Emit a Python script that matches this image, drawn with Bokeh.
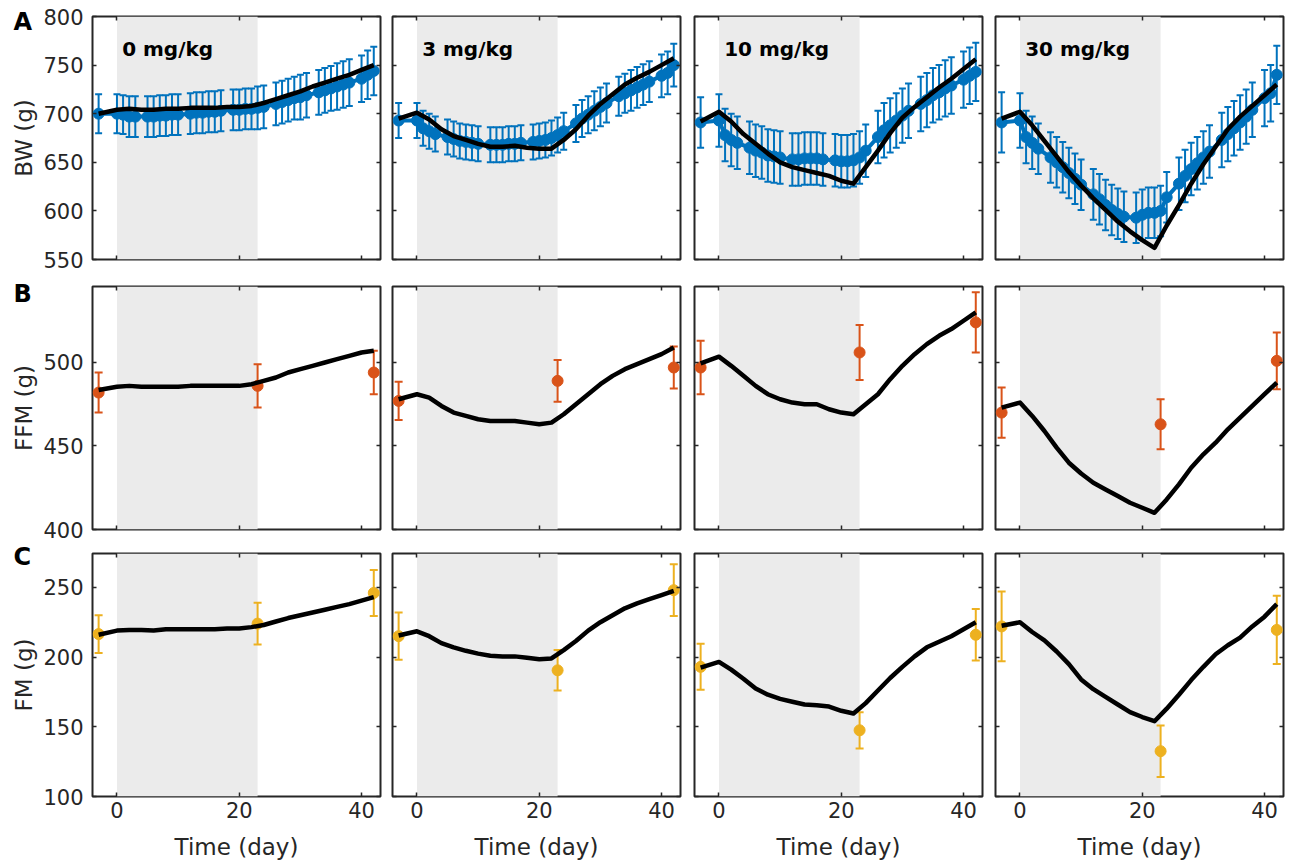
import math
from bokeh.plotting import figure
from bokeh.models import (ColumnDataSource, Whisker, TeeHead, BoxAnnotation, Label,
                          LinearAxis, Range1d, FixedTicker)
from bokeh.layouts import column, row
from bokeh.embed import file_html
from bokeh.resources import INLINE

# ---------------- data ----------------
DOSES = ["0 mg/kg", "3 mg/kg", "10 mg/kg", "30 mg/kg"]
ROW_LETTERS = ["A", "B", "C"]
Y_LABELS = ["BW (g)", "FFM (g)", "FM (g)"]
X_LABEL = "Time (day)"
TREAT_START = 0
TREAT_END = 23

X_TICKS = [0, 20, 40]
Y_TICKS_BW = [550, 600, 650, 700, 750, 800]
Y_TICKS_FFM = [400, 450, 500]
Y_TICKS_FM = [100, 150, 200, 250]

# body weight measurements (mean, SD)
BW_DAYS = [-3, 0, 1, 2, 3, 5, 6, 7, 8, 9, 10, 12, 13, 14, 15, 16, 17, 19, 20, 21, 22,
           23, 24, 26, 27, 28, 29, 30, 31, 33, 34, 35, 36, 37, 38, 40, 41, 42]
BW_0 = [700, 700, 699, 697, 697, 697, 697, 698, 698, 699, 699, 700, 701, 701, 702, 702, 703,
        704, 704, 705, 705, 706, 707, 710, 712, 714, 716, 717, 719, 722, 724, 726, 728, 730,
        732, 736, 740, 744]
BW_0_SD = [20, 20, 20, 21, 21, 21, 21, 21, 21, 21, 21, 21, 21, 21, 21, 21, 21, 21, 21, 21, 21,
           22, 22, 22, 22, 22, 22, 23, 23, 23, 23, 23, 24, 24, 24, 24, 25, 25]
BW_3 = [693, 693, 685, 682, 679, 676, 674, 672, 671, 670, 669, 668, 668, 668, 669, 669, 670,
        671, 672, 673, 675, 678, 682, 690, 695, 699, 703, 707, 711, 718, 721, 724, 727, 730,
        733, 739, 742, 750]
BW_3_SD = [18, 18, 18, 18, 18, 18, 18, 18, 18, 18, 18, 18, 18, 18, 18, 18, 18, 18, 18, 18, 18,
           18, 19, 19, 19, 19, 20, 20, 20, 20, 20, 21, 21, 21, 21, 22, 22, 22]
BW_10 = [691, 693, 678, 673, 670, 665, 662, 660, 657, 656, 655, 653, 653, 654, 654, 654, 653,
         652, 651, 651, 652, 655, 662, 676, 683, 688, 693, 698, 703, 710, 714, 719, 722, 726,
         729, 735, 739, 743]
BW_10_SD = [26, 27, 27, 27, 27, 27, 27, 27, 27, 27, 27, 27, 27, 27, 27, 27, 27, 27, 27, 27, 27,
            27, 27, 27, 28, 28, 28, 28, 28, 28, 28, 28, 28, 29, 29, 29, 29, 30]
BW_30 = [691, 693, 676, 670, 664, 655, 650, 645, 639, 633, 627, 617, 612, 606, 601, 597, 594,
         593, 596, 598, 598, 600, 614, 628, 636, 643, 649, 655, 661, 673, 679, 685, 691, 697,
         704, 716, 721, 740]
BW_30_SD = [31, 28, 27, 27, 26, 26, 26, 26, 26, 26, 26, 26, 26, 26, 26, 26, 26, 26, 26, 26, 26,
            26, 26, 27, 27, 27, 27, 27, 27, 28, 28, 28, 28, 28, 28, 29, 29, 30]

# model simulations
MODEL_DAYS = [-3, 0, 2, 4, 6, 8, 10, 12, 14, 16, 18, 20, 22, 24, 26, 28, 30, 32, 34, 36, 38, 40, 42]
MODEL_BW_0 = [700, 704, 705, 704, 704, 705, 705, 706, 706, 706, 707, 707, 708, 711, 715, 719,
              723, 728, 732, 736, 740, 745, 750]
MODEL_BW_3 = [695, 701, 694, 684, 677, 673, 669, 666, 666, 667, 665, 664, 664, 673, 684, 698,
              710, 720, 730, 737, 743, 750, 757]
MODEL_BW_10 = [692, 702, 692, 679, 669, 659, 650, 645, 642, 639, 636, 631, 628, 645, 662, 680,
               696, 707, 717, 727, 736, 746, 756]
MODEL_BW_30 = [695, 702, 688, 672, 656, 640, 626, 613, 601, 589, 579, 570, 562, 585, 606, 628,
               648, 666, 684, 697, 708, 719, 730]
MODEL_FFM_0 = [483.5, 485.5, 486, 485.5, 485.5, 485.5, 485.5, 486, 486, 486, 486, 486, 487, 489,
               491, 494, 496, 498, 500, 502, 504, 506, 507]
MODEL_FFM_3 = [478, 481, 479, 474, 470, 468, 466, 465, 465, 465, 464, 463, 464, 469, 475, 481,
               487, 492, 496, 499, 502, 505, 509]
MODEL_FFM_10 = [499.5, 503.5, 498, 492, 486, 481, 478, 476, 475, 475, 472, 470, 469, 475, 481,
                490, 498, 505, 511, 516, 520, 525, 530]
MODEL_FFM_30 = [473, 476, 468, 459, 449, 440, 433.5, 428, 424, 420, 416, 413, 410, 418, 427, 437,
                445, 452, 460, 467, 474, 481, 488]
MODEL_FM_0 = [216, 219, 219.5, 219.5, 219, 220, 220, 220, 220, 220, 220.5, 220.5, 221.5, 223,
              225.5, 228, 230, 232, 234, 236, 238, 240.5, 243]
MODEL_FM_3 = [215.5, 218.5, 215, 210, 207, 204.5, 202.5, 201, 200.5, 200.5, 199.5, 198.5, 199,
              205, 211.5, 219, 225, 230, 235, 238.5, 241.5, 244.5, 247.5]
MODEL_FM_10 = [192.5, 196.5, 191, 184.5, 177.5, 173, 170, 168, 166, 165.5, 164.5, 161.5, 159.5,
               167, 176, 185, 193, 200.5, 207, 211, 215, 220, 225]
MODEL_FM_30 = [222.5, 225, 218, 212, 204, 195, 184, 177, 171.5, 166, 160.5, 157, 154, 163, 173,
               183.5, 193, 202, 208.5, 214, 222, 229, 238]

# body composition measurements (mean, SD)
COMP_DAYS = [-3, 23, 42]
FFM_0 = [482, 486, 494]
FFM_0_SD = [12, 13, 13]
FFM_3 = [477, 489, 497]
FFM_3_SD = [11.5, 12.5, 12.5]
FFM_10 = [497, 506, 524]
FFM_10_SD = [16, 16.5, 18]
FFM_30 = [470, 463, 501]
FFM_30_SD = [15, 15, 17]
FM_0 = [216.5, 224, 246]
FM_0_SD = [13.5, 15, 16.5]
FM_3 = [215, 190.5, 248]
FM_3_SD = [17, 14.5, 18.5]
FM_10 = [193, 147.5, 216]
FM_10_SD = [16.5, 13, 18.5]
FM_30 = [222, 132.5, 219.5]
FM_30_SD = [25, 18.5, 24.5]

# ---------------- assembly ----------------
OBS = [
    [(BW_0, BW_0_SD), (BW_3, BW_3_SD), (BW_10, BW_10_SD), (BW_30, BW_30_SD)],
    [(FFM_0, FFM_0_SD), (FFM_3, FFM_3_SD), (FFM_10, FFM_10_SD), (FFM_30, FFM_30_SD)],
    [(FM_0, FM_0_SD), (FM_3, FM_3_SD), (FM_10, FM_10_SD), (FM_30, FM_30_SD)],
]
OBS_DAYS = [BW_DAYS, COMP_DAYS, COMP_DAYS]
MODELS = [
    [MODEL_BW_0, MODEL_BW_3, MODEL_BW_10, MODEL_BW_30],
    [MODEL_FFM_0, MODEL_FFM_3, MODEL_FFM_10, MODEL_FFM_30],
    [MODEL_FM_0, MODEL_FM_3, MODEL_FM_10, MODEL_FM_30],
]
Y_TICKS = [Y_TICKS_BW, Y_TICKS_FFM, Y_TICKS_FM]
Y_RANGES = [(550, 800), (400, 545.5), (100, 274.3)]
X_RANGE = (-4, 43.1)
TITLE_POS = (0.85, 767)

BLUE = "#0072BD"
ORANGE = "#D95319"
YELLOW = "#EDB120"
ROW_COLORS = [BLUE, ORANGE, YELLOW]
SHADE = "#EBEBEB"
AXIS = "#262626"
FONT = "DejaVu Sans"

SIDE_W = 40                      # narrow strip holding row letters and y-axis titles
COL_LEFT = [52, 10, 12, 11]
COL_RIGHT = [2, 2, 2, 3]
FRAME_W = 288
ROW_TOP = [16, 13, 12]
ROW_BOTTOM = [14, 12, 68]
FRAME_H = 243
LETTER_FROM_ROW_TOP = [21, 20, 15]
ROW_H = [t + FRAME_H + b for t, b in zip(ROW_TOP, ROW_BOTTOM)]
TOTAL_H = sum(ROW_H)


def style_axis(ax, ticks, show_labels):
    ax.ticker = FixedTicker(ticks=ticks)
    ax.axis_line_color = None
    ax.major_tick_in = 4
    ax.major_tick_out = 0
    ax.minor_tick_line_color = None
    ax.major_tick_line_color = AXIS
    ax.major_tick_line_width = 1.5
    if show_labels:
        ax.major_label_text_font = FONT
        ax.major_label_text_font_size = "21px"
        ax.major_label_text_color = AXIS
    else:
        ax.major_label_text_font_size = "0px"
        ax.major_label_text_color = None
        ax.major_label_text_alpha = 0
        ax.major_label_standoff = 0


# side strip spanning all rows: panel letters and y-axis titles (pixel coordinates)
side = figure(width=SIDE_W, height=TOTAL_H, title=None,
              x_range=Range1d(0, SIDE_W), y_range=Range1d(TOTAL_H, 0),
              output_backend="svg", toolbar_location=None,
              x_axis_location=None, y_axis_location=None,
              min_border=0, min_border_left=0, min_border_right=0, min_border_top=0,
              min_border_bottom=0)
side.outline_line_color = None
side.background_fill_color = "white"
side.border_fill_color = "white"
for g in side.grid:
    g.visible = False

rows = []
row_start = 0
for r in range(3):
    fig_h = ROW_H[r]
    side.add_layout(Label(x=13, y=row_start + LETTER_FROM_ROW_TOP[r], text=ROW_LETTERS[r],
                          text_font=FONT, text_font_size="24px", text_font_style="bold",
                          text_color="black", text_baseline="middle", text_align="left"))
    side.add_layout(Label(x=23, y=row_start + ROW_TOP[r] + FRAME_H / 2, text=Y_LABELS[r],
                          angle=math.pi / 2, text_font=FONT, text_font_size="23px",
                          text_color=AXIS, text_baseline="middle", text_align="center"))
    row_start += fig_h

    figs = []
    for c in range(4):
        p = figure(width=COL_LEFT[c] + FRAME_W + COL_RIGHT[c], height=fig_h,
                   x_range=Range1d(*X_RANGE), y_range=Range1d(*Y_RANGES[r]),
                   output_backend="svg", toolbar_location=None,
                   min_border_left=COL_LEFT[c], min_border_right=COL_RIGHT[c],
                   min_border_top=ROW_TOP[r], min_border_bottom=ROW_BOTTOM[r])
        p.grid.visible = False
        p.outline_line_color = AXIS
        p.outline_line_width = 2
        p.background_fill_color = "white"
        p.border_fill_color = "white"

        p.add_layout(BoxAnnotation(left=TREAT_START, right=TREAT_END, fill_color=SHADE,
                                   fill_alpha=1.0, line_color=None, level="underlay"))

        color = ROW_COLORS[r]
        days = OBS_DAYS[r]
        mean, sd = OBS[r][c]
        src = ColumnDataSource(dict(x=days, y=mean,
                                    lower=[m - s for m, s in zip(mean, sd)],
                                    upper=[m + s for m, s in zip(mean, sd)]))
        cap = 7 if r == 0 else 8
        p.add_layout(Whisker(base="x", lower="lower", upper="upper", source=src,
                             line_color=color, line_width=2, level="underlay",
                             upper_head=TeeHead(size=cap, line_color=color, line_width=2),
                             lower_head=TeeHead(size=cap, line_color=color, line_width=2)))
        if r == 0:
            p.line("x", "y", source=src, line_color=color, line_width=4)
            p.scatter("x", "y", source=src, size=11, fill_color=color, line_color=color)
        else:
            p.scatter("x", "y", source=src, size=11, fill_color=color, line_color=color)

        p.line(MODEL_DAYS, MODELS[r][c], line_color="black", line_width=4.5,
               line_join="round")

        # axes
        style_axis(p.xaxis[0], X_TICKS, r == 2)
        style_axis(p.yaxis[0], Y_TICKS[r], c == 0)
        if r == 2:
            p.xaxis[0].axis_label = X_LABEL
            p.xaxis[0].axis_label_text_font = FONT
            p.xaxis[0].axis_label_text_font_size = "23px"
            p.xaxis[0].axis_label_text_font_style = "normal"
            p.xaxis[0].axis_label_text_color = AXIS
            p.xaxis[0].axis_label_standoff = 13
            p.xaxis[0].major_label_standoff = 5
        if c == 0:
            p.yaxis[0].major_label_standoff = 9
        top = LinearAxis()
        style_axis(top, X_TICKS, False)
        p.add_layout(top, "above")
        right = LinearAxis()
        style_axis(right, Y_TICKS[r], False)
        p.add_layout(right, "right")

        if r == 0:
            p.add_layout(Label(x=TITLE_POS[0], y=TITLE_POS[1], text=DOSES[c], text_font=FONT,
                               text_font_size="20px", text_font_style="bold",
                               text_color="black", text_baseline="alphabetic"))
        figs.append(p)
    rows.append(row(*figs))

layout = row(side, column(*rows))
open("out.html", "w").write(file_html(layout, INLINE))
